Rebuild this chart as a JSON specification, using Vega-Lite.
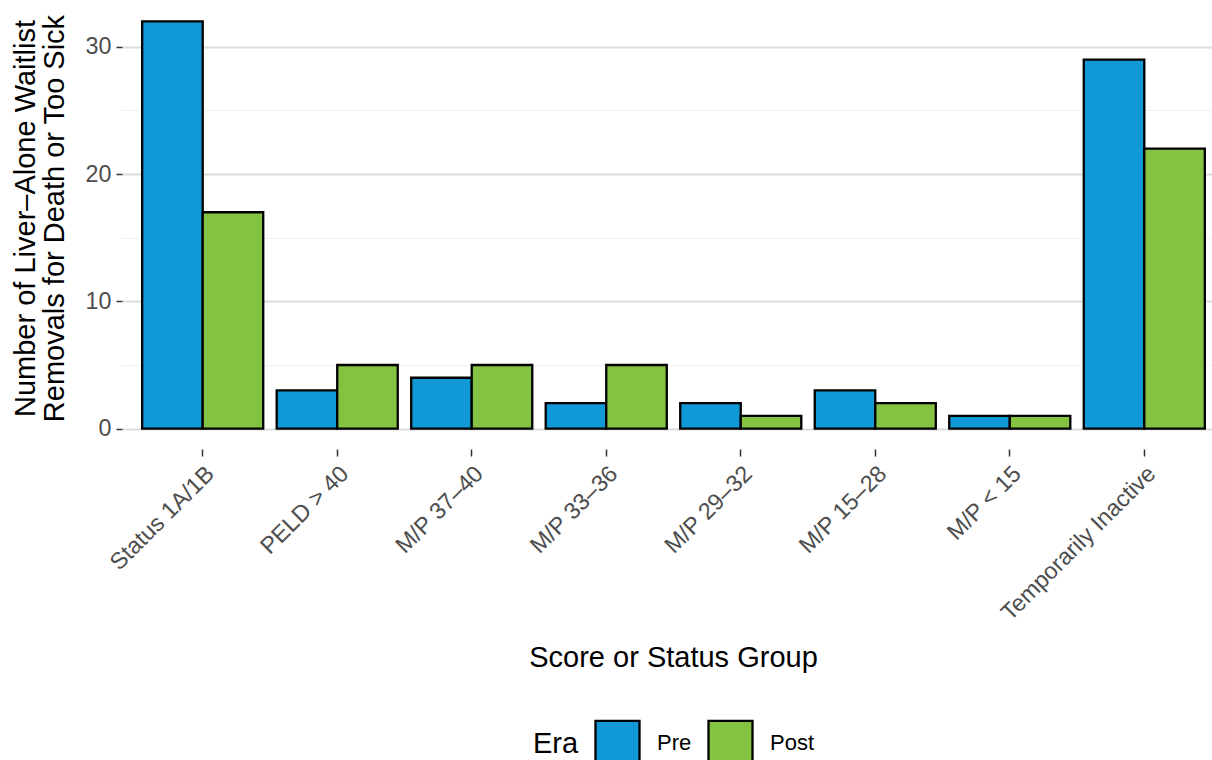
{
  "$schema": "https://vega.github.io/schema/vega-lite/v6.json",
  "autosize": {"type": "none"},
  "padding": {"left": 122, "top": 1, "right": 0, "bottom": 311},
  "width": 1090,
  "height": 448,
  "background": "white",
  "config": {
    "font": "Liberation Sans",
    "view": {"stroke": null}
  },
  "data": {
    "values": [
      {"group": "Status 1A/1B", "era": "Pre", "count": 32},
      {"group": "Status 1A/1B", "era": "Post", "count": 17},
      {"group": "PELD > 40", "era": "Pre", "count": 3},
      {"group": "PELD > 40", "era": "Post", "count": 5},
      {"group": "M/P 37–40", "era": "Pre", "count": 4},
      {"group": "M/P 37–40", "era": "Post", "count": 5},
      {"group": "M/P 33–36", "era": "Pre", "count": 2},
      {"group": "M/P 33–36", "era": "Post", "count": 5},
      {"group": "M/P 29–32", "era": "Pre", "count": 2},
      {"group": "M/P 29–32", "era": "Post", "count": 1},
      {"group": "M/P 15–28", "era": "Pre", "count": 3},
      {"group": "M/P 15–28", "era": "Post", "count": 2},
      {"group": "M/P < 15", "era": "Pre", "count": 1},
      {"group": "M/P < 15", "era": "Post", "count": 1},
      {"group": "Temporarily Inactive", "era": "Pre", "count": 29},
      {"group": "Temporarily Inactive", "era": "Post", "count": 22}
    ]
  },
  "mark": {"type": "bar", "stroke": "black", "strokeWidth": 2.3, "opacity": 1},
  "encoding": {
    "x": {
      "field": "group",
      "type": "nominal",
      "sort": null,
      "scale": {"paddingInner": 0.1, "paddingOuter": 0.15, "range": [0, 1103]},
      "axis": {
        "title": "Score or Status Group",
        "titleFontSize": 29,
        "titleFontWeight": "normal",
        "titleColor": "black",
        "titleBaseline": "alphabetic",
        "titleY": 217,
        "titleX": 551,
        "domain": false,
        "grid": false,
        "tickSize": 7,
        "tickColor": "#333333",
        "tickWidth": 1.5,
        "labelAngle": -45,
        "labelAlign": "right",
        "labelBaseline": "top",
        "labelFontSize": 23.3,
        "labelColor": "#4d4d4d",
        "labelPadding": 6,
        "labelDx": 2,
        "labelLimit": 0
      }
    },
    "xOffset": {"field": "era", "type": "nominal", "sort": ["Pre", "Post"]},
    "y": {
      "field": "count",
      "type": "quantitative",
      "scale": {"domain": [-1.6, 33.6], "nice": false, "zero": false},
      "axis": {
        "title": ["Number of Liver–Alone Waitlist", "Removals for Death or Too Sick"],
        "titleFontSize": 29,
        "titleFontWeight": "normal",
        "titleColor": "black",
        "titleLineHeight": 29,
        "titleBaseline": "alphabetic",
        "titleX": -88,
        "titleY": 217,
        "values": [0, 5, 10, 15, 20, 25, 30],
        "labelExpr": "datum.value % 10 === 0 ? datum.label : ''",
        "labelFontSize": 23.3,
        "labelColor": "#4d4d4d",
        "labelPadding": 5,
        "domain": false,
        "grid": true,
        "gridColor": {"condition": {"test": "datum.value % 10 === 0", "value": "#dcdcdc"}, "value": "#f0f0f0"},
        "gridWidth": {"condition": {"test": "datum.value % 10 === 0", "value": 2}, "value": 1.2},
        "tickColor": "#333333",
        "tickWidth": 1.5,
        "tickSize": 6,
        "tickOpacity": {"condition": {"test": "datum.value % 10 === 0", "value": 1}, "value": 0}
      }
    },
    "fill": {
      "field": "era",
      "type": "nominal",
      "sort": ["Pre", "Post"],
      "scale": {"domain": ["Pre", "Post"], "range": ["#1198D6", "#83C341"]},
      "legend": {
        "title": "Era",
        "orient": "none",
        "direction": "horizontal",
        "legendX": 411,
        "legendY": 718,
        "titleOrient": "left",
        "titleFontSize": 29,
        "titleFontWeight": "normal",
        "titleColor": "black",
        "titleBaseline": "middle",
        "titlePadding": 15,
        "symbolType": "square",
        "symbolSize": 1936,
        "symbolStrokeColor": "black",
        "symbolStrokeWidth": 2.3,
        "symbolOpacity": 1,
        "labelFontSize": 22,
        "labelColor": "black",
        "labelOffset": 16,
        "columnPadding": 11
      }
    }
  }
}
